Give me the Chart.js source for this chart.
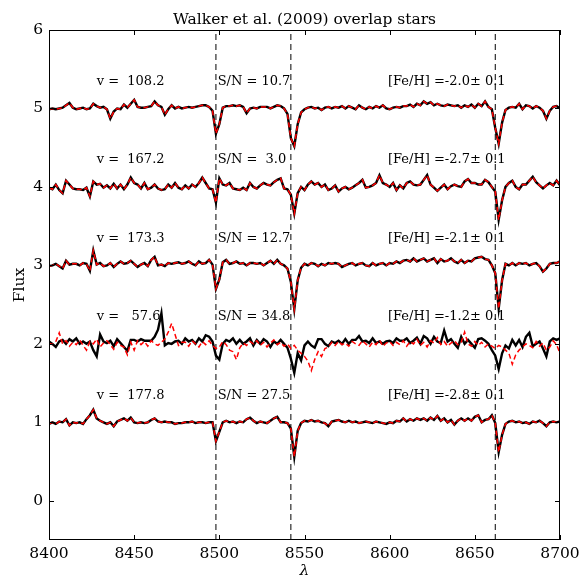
<!DOCTYPE html>
<html>
<head>
<meta charset="utf-8">
<script src="https://cdn.jsdelivr.net/npm/chart.js@4.4.1/dist/chart.umd.min.js"></script>
<style>
  body { margin: 0; background: #fff; }
  #wrap { width: 587px; height: 577px; }
</style>
</head>
<body>
<div id="wrap"><canvas id="myChart" width="587" height="577"></canvas></div>
<script>
// wavelength sampling of the spectra (Angstrom)
const waveStart = 8400;
const waveStep = 2;

const xTicks = [8400, 8450, 8500, 8550, 8600, 8650, 8700];
const yTicks = [0, 1, 2, 3, 4, 5, 6];
const catLines = [8498, 8542, 8662]; // Ca II triplet

// vertical shift added to each normalised spectrum
const offsets = [4, 3, 2, 1, 0];
const velocities = ["108.2", "167.2", "173.3", "57.6", "177.8"];
const snr = ["10.7", "3.0", "12.7", "34.8", "27.5"];
const feh = ["-2.0", "-2.7", "-2.1", "-1.2", "-2.8"];
const fehErr = ["0.1", "0.1", "0.1", "0.1", "0.1"];

// normalised flux in per cent of the continuum, one value every 2 A
const star1 = [
  99,100,99,100,101,104,107,101,99,100,
  101,99,100,106,103,101,102,99,87,96,
  100,99,105,101,106,111,102,101,101,102,
  103,109,104,102,92,99,104,100,102,100,
  101,102,101,102,103,104,104,102,97,68,
  80,101,103,103,104,103,104,102,94,100,
  101,100,102,102,102,100,102,104,103,100,
  93,62,52,80,95,99,101,102,100,101,
  98,101,102,100,102,101,103,100,103,101,
  99,104,101,99,102,100,103,101,104,100,
  99,101,102,101,103,103,105,102,106,104,
  109,106,108,104,106,104,103,105,104,103,
  104,101,104,102,105,101,106,103,109,102,
  99,75,55,82,98,101,102,101,106,99,
  104,103,100,103,101,97,87,97,102,103,
  100
];
const star2 = [
  99,97,103,96,92,108,103,98,97,97,
  96,99,88,107,103,104,99,102,98,104,
  98,103,97,103,112,105,103,98,105,97,
  99,103,98,96,97,103,99,105,99,97,
  102,98,103,100,105,112,105,98,97,80,
  111,103,102,105,98,97,96,99,96,105,
  100,98,102,105,103,102,106,109,111,98,
  97,90,66,92,100,96,103,107,103,105,
  100,103,96,98,102,94,98,100,97,99,
  102,105,109,99,100,102,105,115,105,103,
  100,105,96,102,98,105,107,103,102,103,
  109,115,103,99,95,99,103,97,101,103,
  101,100,107,110,105,105,103,103,109,106,
  100,94,58,83,100,105,108,100,97,103,
  103,108,113,106,102,98,102,105,102,108,
  102
];
const star3 = [
  99,100,102,99,96,106,101,102,102,100,
  103,102,93,119,101,103,99,100,103,98,
  102,105,102,103,106,102,98,101,103,99,
  107,111,100,101,99,103,102,103,104,102,
  103,105,102,100,105,102,103,107,101,70,
  82,104,107,102,103,105,102,103,100,103,
  103,102,103,100,103,106,102,107,102,100,
  96,79,44,81,97,102,100,103,102,99,
  102,100,103,102,103,102,98,100,102,103,
  100,102,103,100,99,103,100,102,103,100,
  103,102,105,103,106,107,105,109,105,107,
  109,105,107,109,103,108,105,106,109,105,
  103,107,103,106,105,109,110,111,108,107,
  100,90,45,81,102,100,103,100,103,102,
  103,100,102,103,99,92,96,102,103,103,
  105
];
const star4 = [
  103,100,96,103,105,100,106,103,107,100,
  103,100,103,92,84,112,103,101,104,97,
  106,101,96,91,105,105,103,106,104,104,
  104,109,118,139,98,101,100,103,104,100,
  107,103,105,100,107,103,111,109,103,85,
  80,100,105,103,107,100,105,100,103,107,
  98,105,100,106,103,96,103,100,105,100,
  95,81,63,88,79,98,103,98,95,106,
  106,100,97,103,101,104,100,106,100,105,
  105,110,103,104,101,107,101,103,100,103,
  104,101,107,104,104,107,101,104,108,100,
  110,107,100,109,103,101,117,103,106,100,
  95,109,100,105,100,95,106,107,104,100,
  92,85,68,88,98,94,105,98,105,96,
  109,114,97,100,103,94,84,103,107,105,
  107
];
const star5 = [
  98,100,98,101,100,104,96,100,99,100,
  98,104,109,116,105,102,100,98,100,95,
  101,103,105,102,106,100,99,100,99,100,
  103,105,101,100,101,100,100,98,99,99,
  100,100,101,99,100,100,99,100,100,76,
  88,100,102,100,101,99,101,100,104,106,
  102,99,101,100,99,102,105,107,100,100,
  99,92,56,89,99,102,101,103,101,102,
  100,99,95,101,102,103,101,100,102,100,
  101,99,100,101,100,99,101,100,99,98,
  100,99,102,101,105,101,104,102,105,103,
  105,102,106,103,108,102,105,100,103,97,
  102,105,102,105,102,107,109,100,103,104,
  109,99,62,84,98,101,102,100,101,99,
  100,98,101,100,102,99,95,100,101,100,
  101
];
// red model curve of the 57.6 km/s star (the others sit on their data)
const model4 = [
  101,99,103,114,100,104,97,102,99,105,
  98,92,103,100,106,96,101,104,99,93,
  102,98,96,86,102,92,104,99,103,97,
  104,100,98,102,106,115,126,112,98,102,
  102,97,104,100,96,103,99,104,98,94,
  96,103,99,92,90,80,95,101,98,103,
  100,104,98,102,96,101,105,99,102,97,
  100,94,98,92,88,84,78,66,80,90,
  84,94,96,102,98,103,99,101,97,103,
  100,98,104,100,96,102,99,105,97,101,
  103,98,102,99,104,97,103,100,106,98,
  102,96,104,101,108,99,103,97,101,104,
  99,102,115,100,97,103,98,102,96,100,
  97,94,98,96,92,88,74,86,92,96,
  100,98,95,103,97,101,92,96,104,99,
  88
];

const dataFlux = [star1, star2, star3, star4, star5];
const modelFlux = [star1, star2, star3, model4, star5];

const toPoints = (arr, off) =>
  arr.map((f, i) => ({ x: waveStart + i * waveStep, y: off + f / 100 }));

Chart.defaults.font.family = "'DejaVu Serif', serif";
Chart.defaults.color = "#000";

const datasets = [];
// red first so it is drawn on top of black
offsets.forEach((off, i) => {
  datasets.push({
    data: toPoints(modelFlux[i], off),
    borderColor: "#ff0000",
    borderWidth: 1.5,
    borderDash: [5, 3],
    pointRadius: 0,
    tension: 0,
  });
});
offsets.forEach((off, i) => {
  datasets.push({
    data: toPoints(dataFlux[i], off),
    borderColor: "#000",
    borderWidth: 2.4,
    pointRadius: 0,
    tension: 0,
  });
});
catLines.forEach((w) => {
  datasets.push({
    data: [{ x: w, y: -0.5 }, { x: w, y: 6 }],
    borderColor: "#000",
    borderWidth: 1,
    borderDash: [6, 4],
    pointRadius: 0,
  });
});

// frame, inward ticks and all the text
const decorations = {
  id: "decorations",
  afterDatasetsDraw(chart) {
    const { ctx, chartArea: a, scales: { x, y } } = chart;
    ctx.save();
    ctx.strokeStyle = "#000";
    ctx.lineWidth = 1;
    ctx.strokeRect(a.left + 0.5, a.top + 0.5, a.right - a.left - 1, a.bottom - a.top - 1);

    const len = 5;
    ctx.beginPath();
    xTicks.forEach((v) => {
      const px = Math.round(x.getPixelForValue(v)) + 0.5;
      ctx.moveTo(px, a.bottom); ctx.lineTo(px, a.bottom - len);
      ctx.moveTo(px, a.top); ctx.lineTo(px, a.top + len);
    });
    yTicks.forEach((v) => {
      const py = Math.round(y.getPixelForValue(v)) + 0.5;
      ctx.moveTo(a.left, py); ctx.lineTo(a.left + len, py);
      ctx.moveTo(a.right, py); ctx.lineTo(a.right - len, py);
    });
    ctx.stroke();

    ctx.fillStyle = "#000";
    ctx.textBaseline = "alphabetic";
    ctx.textAlign = "left";
    ctx.font = "13px 'DejaVu Serif'";
    offsets.forEach((off, i) => {
      const py = y.getPixelForValue(off + 1.3);
      ctx.fillText("v = " + velocities[i].padStart(6), x.getPixelForValue(8428), py);
      ctx.fillText("S/N =" + snr[i].padStart(5), x.getPixelForValue(8499), py);
      ctx.fillText("[Fe/H] =" + feh[i] + "\u00b1" + fehErr[i].padStart(4), x.getPixelForValue(8599), py);
    });

    ctx.font = "15.5px 'DejaVu Serif'";
    ctx.textAlign = "center";
    ctx.fillText("Walker et al. (2009) overlap stars", (a.left + a.right) / 2, 24);

    ctx.font = "italic 15.5px 'DejaVu Serif'";
    ctx.fillText("\u03bb", (a.left + a.right) / 2, 575);

    ctx.font = "15.5px 'DejaVu Serif'";
    ctx.translate(20, (a.top + a.bottom) / 2);
    ctx.rotate(-Math.PI / 2);
    ctx.textBaseline = "middle";
    ctx.fillText("Flux", 0, 0);
    ctx.restore();
  },
};

const ctx = document.getElementById("myChart");
const chart = new Chart(ctx, {
  type: "line",
  data: { datasets: datasets },
  options: {
    responsive: false,
    animation: false,
    layout: { padding: { left: 0, right: 27, top: 30, bottom: 0 } },
    plugins: { legend: { display: false }, tooltip: { enabled: false } },
    scales: {
      x: {
        type: "linear",
        min: 8400,
        max: 8700,
        afterBuildTicks: (s) => { s.ticks = xTicks.map((v) => ({ value: v })); },
        afterFit: (s) => { s.height = 37; },
        grid: { display: false, drawTicks: false },
        border: { display: false },
        ticks: { font: { size: 15.5 }, padding: 5, maxRotation: 0, callback: (v) => String(v) },
      },
      y: {
        type: "linear",
        min: -0.5,
        max: 6,
        afterBuildTicks: (s) => { s.ticks = yTicks.map((v) => ({ value: v })); },
        afterFit: (s) => { s.width = 49; },
        grid: { display: false, drawTicks: false },
        border: { display: false },
        ticks: { font: { size: 15.5 }, padding: 6, callback: (v) => String(v) },
      },
    },
  },
  plugins: [decorations],
});
</script>
</body>
</html>
